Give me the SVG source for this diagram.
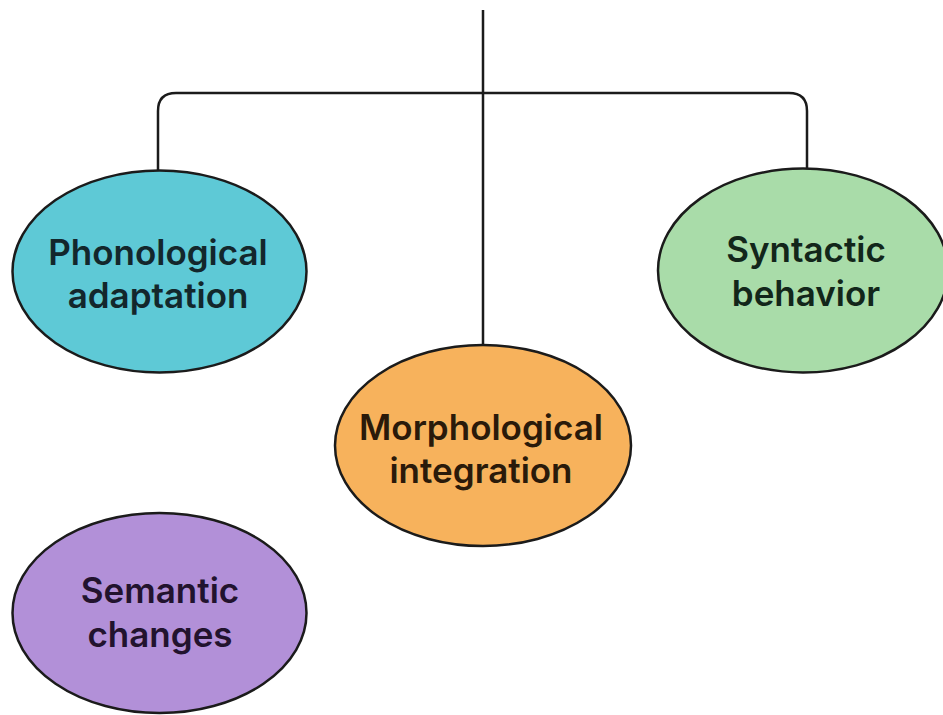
<svg xmlns="http://www.w3.org/2000/svg" width="943" height="715" viewBox="0 0 943 715">
<style>
.node ellipse{stroke:#1b1b1b;stroke-width:2.5}
.conn path{fill:none;stroke:#1b1b1b;stroke-width:2.5}
text{font-family:Inter,"Liberation Sans",sans-serif;font-weight:600;font-size:35px;text-anchor:middle}
</style>
<rect width="943" height="715" fill="#ffffff"/>
<g class="conn" id="connectors">
<path d="M483 10 V346"/>
<path d="M158 171 V111 Q158 93 176 93 H789 Q807 93 807 111 V169"/>
</g>
<g class="node" id="phonological">
<ellipse cx="159.5" cy="271.5" rx="147" ry="101" fill="#5ec9d6"/>
<text fill="#13272c"><tspan x="158" y="265">Phonological</tspan><tspan x="158" y="308">adaptation</tspan></text>
</g>
<g class="node" id="morphological">
<ellipse cx="483" cy="445.5" rx="148" ry="100.5" fill="#f7b25c"/>
<text fill="#2a1a0a"><tspan x="481" y="440">Morphological</tspan><tspan x="481" y="483">integration</tspan></text>
</g>
<g class="node" id="syntactic">
<ellipse cx="803" cy="270.5" rx="145" ry="102" fill="#a9dca9"/>
<text fill="#12261a"><tspan x="806" y="262">Syntactic</tspan><tspan x="806" y="306">behavior</tspan></text>
</g>
<g class="node" id="semantic">
<ellipse cx="159.5" cy="613" rx="147" ry="100" fill="#b290d8"/>
<text fill="#22132e"><tspan x="160" y="603">Semantic</tspan><tspan x="160" y="647">changes</tspan></text>
</g>
</svg>
